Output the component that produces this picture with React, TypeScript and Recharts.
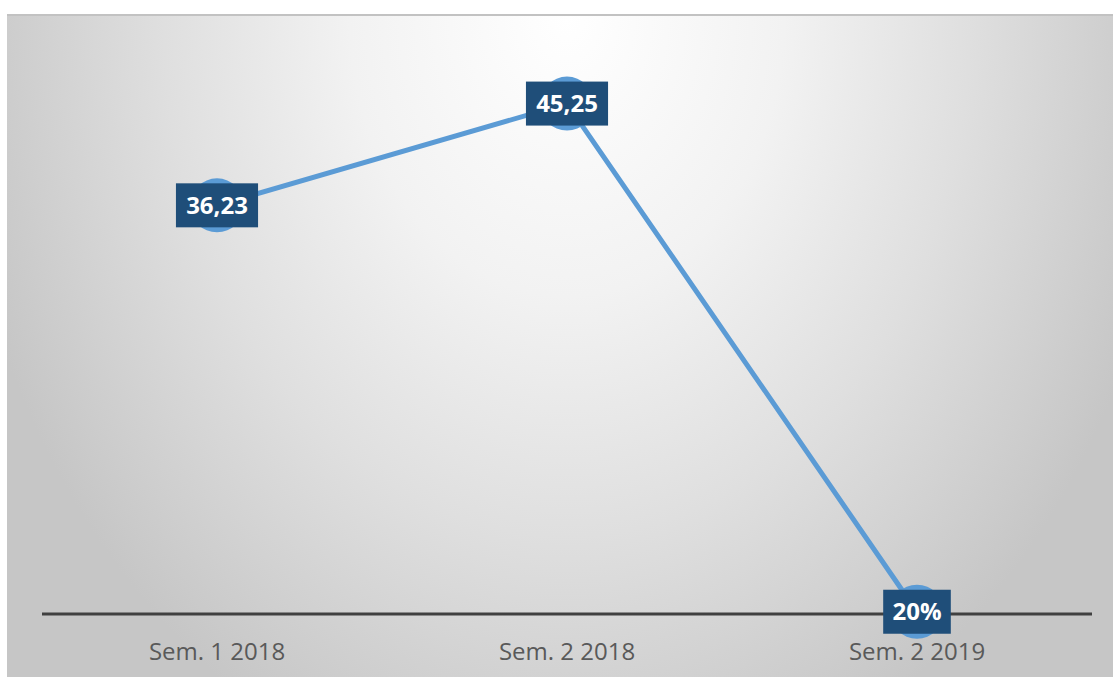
import {LabelList, Line, LineChart, XAxis, YAxis} from 'recharts';

const categories = ['Sem. 1 2018', 'Sem. 2 2018', 'Sem. 2 2019'];
const values = [36.23, 45.25, 0.2];
const valueLabels = ['36,23', '45,25', '20%'];

const data = categories.map((name, i) => ({name, value: values[i], label: valueLabels[i]}));

// rough em widths for Open Sans bold, used to size the label boxes
const charEm: Record<string, number> = {',': 0.3, '%': 0.84};
const textWidth = (s: string, size: number) =>
  s.split('').reduce((w, c) => w + (charEm[c] ?? 0.572), 0) * size;

const LABEL_FONT = 24;

const ValueLabel = (props: any) => {
  const {x, y, index} = props;
  const text = valueLabels[index];
  const w = textWidth(text, LABEL_FONT) + 20;
  const h = 44;
  return (
    <g>
      <rect x={x - w / 2} y={y - h / 2} width={w} height={h} fill="#1f4e79"/>
      <text
        x={x}
        y={y}
        dy="0.35em"
        textAnchor="middle"
        fill="#ffffff"
        fontFamily="'Open Sans', sans-serif"
        fontWeight="bold"
        fontSize={LABEL_FONT}
      >
        {text}
      </text>
    </g>
  );
};

const CategoryTick = (props: any) => {
  const {x, payload} = props;
  return (
    <text
      x={x}
      y={644}
      textAnchor="middle"
      fill="#595959"
      fontFamily="'Open Sans', sans-serif"
      fontSize={24}
    >
      {payload.value}
    </text>
  );
};

export default function App() {
  return (
    <div
      style={{
        position: 'absolute',
        left: 7,
        top: 14,
        width: 1106,
        height: 663,
        boxSizing: 'border-box',
        borderTop: '2px solid #c2c2c2',
        background:
          'radial-gradient(ellipse 620px 800px at 560px 0px, #ffffff 0%, #f2f2f2 35%, #dfdfdf 65%, #c6c6c6 100%)',
      }}
    >
      <LineChart
        width={1106}
        height={661}
        data={data}
        margin={{top: 34, right: 21, left: 35, bottom: 0}}
      >
        <YAxis hide domain={[0, 50]}/>
        <XAxis
          dataKey="name"
          height={63}
          padding={{left: 175, right: 175}}
          tickLine={false}
          axisLine={{stroke: '#404040', strokeWidth: 3}}
          tick={<CategoryTick/>}
          interval={0}
        />
        <Line
          type="linear"
          dataKey="value"
          stroke="#5b9bd5"
          strokeWidth={5}
          dot={{r: 27, fill: '#5b9bd5', stroke: 'none'}}
          activeDot={false}
          isAnimationActive={false}
        >
          <LabelList dataKey="label" content={<ValueLabel/>}/>
        </Line>
      </LineChart>
    </div>
  );
}
